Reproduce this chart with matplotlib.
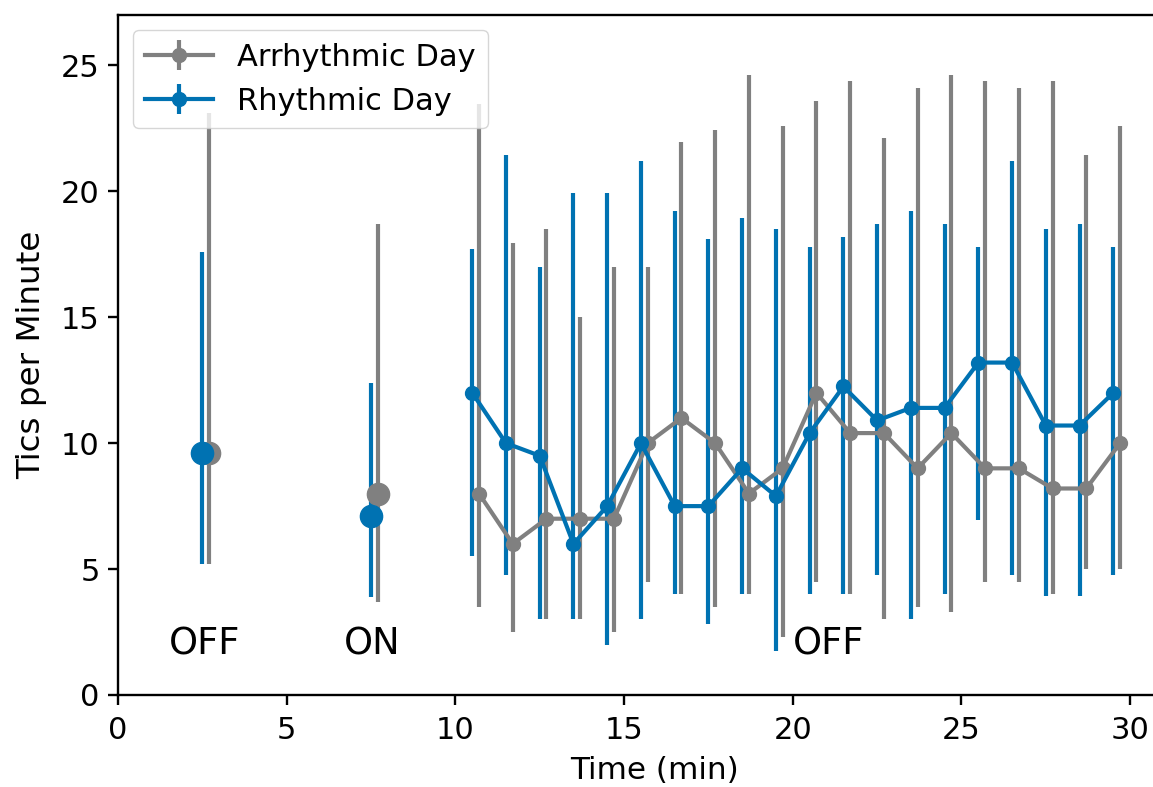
import matplotlib
matplotlib.use('Agg')
import matplotlib.pyplot as plt

# ── Data ──────────────────────────────────────────────────────
# baseline points (OFF / ON blocks)
rhy_base_t = [2.5, 7.5]
rhy_base_mean = [9.6, 7.1]
rhy_base_lo = [5.2, 3.9]
rhy_base_hi = [17.6, 12.4]

arr_base_t = [2.7, 7.7]
arr_base_mean = [9.6, 8.0]
arr_base_lo = [5.2, 3.7]
arr_base_hi = [23.1, 18.7]

# minute-by-minute series
rhy_t = [10.5, 11.5, 12.5, 13.5, 14.5, 15.5, 16.5, 17.5, 18.5, 19.5,
         20.5, 21.5, 22.5, 23.5, 24.5, 25.5, 26.5, 27.5, 28.5, 29.5]
rhy_mean = [12.0, 10.0, 9.5, 6.0, 7.5, 10.0, 7.5, 7.5, 9.0, 7.9,
            10.4, 12.25, 10.9, 11.4, 11.4, 13.2, 13.2, 10.7, 10.7, 12.0]
rhy_lo = [5.5, 4.75, 3.0, 3.0, 2.0, 3.0, 4.0, 2.8, 4.0, 1.75,
          4.0, 4.0, 4.75, 3.0, 4.0, 6.95, 4.75, 3.95, 3.95, 4.75]
rhy_hi = [17.7, 21.45, 17.0, 19.95, 19.95, 21.2, 19.2, 18.1, 18.95, 18.5,
          17.8, 18.2, 18.7, 19.2, 18.7, 17.8, 21.2, 18.5, 18.7, 17.8]

arr_t = [10.7, 11.7, 12.7, 13.7, 14.7, 15.7, 16.7, 17.7, 18.7, 19.7,
         20.7, 21.7, 22.7, 23.7, 24.7, 25.7, 26.7, 27.7, 28.7, 29.7]
arr_mean = [8.0, 6.0, 7.0, 7.0, 7.0, 10.0, 11.0, 10.0, 8.0, 9.0,
            12.0, 10.4, 10.4, 9.0, 10.4, 9.0, 9.0, 8.2, 8.2, 10.0]
arr_lo = [3.5, 2.5, 3.0, 3.0, 2.5, 4.5, 4.0, 3.5, 4.0, 2.3,
          4.5, 4.0, 3.0, 3.5, 3.3, 4.5, 4.5, 4.0, 5.0, 5.0]
arr_hi = [23.45, 17.95, 18.5, 15.0, 17.0, 17.0, 21.95, 22.45, 24.6, 22.6,
          23.6, 24.4, 22.1, 24.1, 24.6, 24.4, 24.1, 24.4, 21.45, 22.6]

phase_labels = ['OFF', 'ON', 'OFF']
phase_x = [1.5, 6.7, 20.0]

C_ARR = '#808080'
C_RHY = '#0072B2'


def yerr(mean, lo, hi):
    return [[m - l for m, l in zip(mean, lo)], [h - m for m, h in zip(mean, hi)]]


plt.rcParams.update({'font.size': 22})

fig = plt.figure(figsize=(11.53, 7.87), dpi=100)
# right spine sits past the image edge, like the cropped original
ax = fig.add_axes([0.1023, 0.1169, 0.93, 0.864])

# Arrhythmic day
ax.errorbar(arr_base_t, arr_base_mean, yerr=yerr(arr_base_mean, arr_base_lo, arr_base_hi),
            fmt='o', color=C_ARR, ms=16, elinewidth=3)
ax.errorbar(arr_t, arr_mean, yerr=yerr(arr_mean, arr_lo, arr_hi),
            fmt='-o', color=C_ARR, ms=10, lw=3, elinewidth=3, label='Arrhythmic Day')

# Rhythmic day
ax.errorbar(rhy_base_t, rhy_base_mean, yerr=yerr(rhy_base_mean, rhy_base_lo, rhy_base_hi),
            fmt='o', color=C_RHY, ms=16, elinewidth=3)
ax.errorbar(rhy_t, rhy_mean, yerr=yerr(rhy_mean, rhy_lo, rhy_hi),
            fmt='-o', color=C_RHY, ms=10, lw=3, elinewidth=3, label='Rhythmic Day')

for lab, x in zip(phase_labels, phase_x):
    ax.text(x, 1.6, lab, fontsize=26.5)

ax.set_xlim(0, 31.78)
ax.set_ylim(0, 27)
ax.set_xticks([0, 5, 10, 15, 20, 25, 30])
ax.set_yticks([0, 5, 10, 15, 20, 25])
ax.set_xlabel('Time (min)', fontsize=22.4, labelpad=8)
ax.set_ylabel('Tics per Minute', fontsize=23.4, labelpad=10)

for s in ax.spines.values():
    s.set_linewidth(1.7)
ax.tick_params(width=1.7, length=7.2)
ax.tick_params(axis='x', pad=8)
ax.tick_params(axis='y', pad=6)

ax.legend(loc='upper left', handlelength=2.2)

fig.savefig('out.png', dpi=100, facecolor='white')
